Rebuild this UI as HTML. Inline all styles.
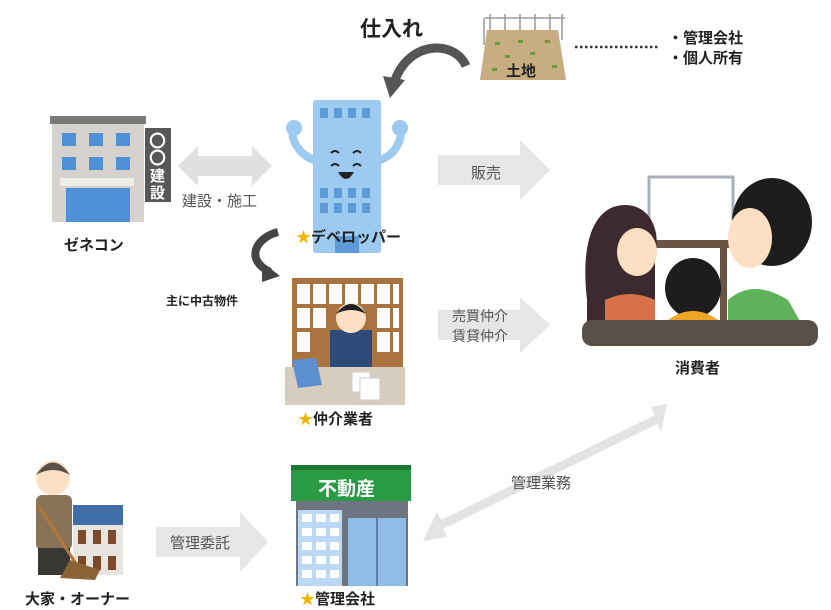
<!DOCTYPE html>
<html><head><meta charset="utf-8"><style>
html,body{margin:0;padding:0;background:#fff;width:831px;height:610px;overflow:hidden}
svg{display:block}
text{font-family:"Liberation Sans","Noto Sans CJK JP",sans-serif;font-weight:bold;fill:#222}
.g{fill:#555;font-weight:normal}
</style></head><body>
<svg width="831" height="610" viewBox="0 0 831 610" xmlns="http://www.w3.org/2000/svg">
<!-- 仕入れ -->
<text x="360" y="36" font-size="21">仕入れ</text>
<path d="M466,66 C455,40 410,40 395,80" fill="none" stroke="#555" stroke-width="9"/>
<polygon points="383,76 405,80 390,98" fill="#555"/>
<!-- land -->
<g stroke="#999" stroke-width="1.5"><line x1="485" y1="18" x2="565" y2="18"/><line x1="490" y1="14" x2="490" y2="30"/><line x1="505" y1="14" x2="505" y2="30"/><line x1="520" y1="14" x2="520" y2="30"/><line x1="535" y1="14" x2="535" y2="30"/><line x1="550" y1="14" x2="550" y2="30"/><line x1="562" y1="14" x2="562" y2="40"/><line x1="484" y1="18" x2="484" y2="45"/></g>
<polygon points="487,30 558,30 566,80 480,80" fill="#c9ad82"/>
<g fill="#6c9a3a"><rect x="495" y="42" width="5" height="3"/><rect x="518" y="40" width="5" height="3"/><rect x="545" y="40" width="5" height="3"/><rect x="505" y="55" width="5" height="3"/><rect x="530" y="52" width="5" height="3"/><rect x="492" y="68" width="5" height="3"/><rect x="552" y="65" width="5" height="3"/></g>
<text x="506" y="76" font-size="15">土地</text>
<line x1="575" y1="47" x2="660" y2="47" stroke="#333" stroke-width="2.5" stroke-dasharray="2.5,2.5"/>
<text x="668" y="43" font-size="15">・管理会社</text>
<text x="668" y="63" font-size="15">・個人所有</text>
<!-- general contractor -->
<rect x="52" y="122" width="92" height="100" fill="#d6d3cf"/>
<rect x="50" y="116" width="96" height="8" fill="#7a7a7a"/>
<g fill="#4d92d6"><rect x="62" y="133" width="14" height="13"/><rect x="89" y="133" width="14" height="13"/><rect x="116" y="133" width="14" height="13"/><rect x="62" y="157" width="14" height="13"/><rect x="89" y="157" width="14" height="13"/><rect x="116" y="157" width="14" height="13"/><rect x="66" y="188" width="64" height="34"/></g>
<rect x="60" y="178" width="74" height="8" fill="#eeeeea"/>
<rect x="145" y="128" width="26" height="74" fill="#575757"/>
<text x="149" y="147" font-size="17" style="fill:#fff">〇</text>
<text x="149" y="164" font-size="17" style="fill:#fff">〇</text>
<text x="150" y="181" font-size="15" style="fill:#fff">建</text>
<text x="150" y="198" font-size="15" style="fill:#fff">設</text>
<text x="64" y="250" font-size="15">ゼネコン</text>
<!-- double arrow -->
<polygon points="178,166 198,146 198,156 252,156 252,146 272,166 252,186 252,176 198,176 198,186" fill="#e0e0e0"/>
<text x="182" y="206" font-size="15" class="g">建設・施工</text>
<!-- developer -->
<rect x="313" y="100" width="68" height="153" rx="3" fill="#9ccaf0"/>
<g fill="#5c9ad8"><rect x="320" y="108" width="8" height="10"/><rect x="334" y="108" width="8" height="10"/><rect x="348" y="108" width="8" height="10"/><rect x="362" y="108" width="8" height="10"/><rect x="320" y="188" width="8" height="10"/><rect x="334" y="188" width="8" height="10"/><rect x="348" y="188" width="8" height="10"/><rect x="362" y="188" width="8" height="10"/><rect x="320" y="203" width="8" height="10"/><rect x="334" y="203" width="8" height="10"/><rect x="348" y="203" width="8" height="10"/><rect x="362" y="203" width="8" height="10"/><rect x="335" y="236" width="24" height="17"/></g>
<path d="M314,160 C300,155 290,140 293,128" fill="none" stroke="#9ccaf0" stroke-width="8"/>
<path d="M380,160 C395,155 403,140 400,128" fill="none" stroke="#9ccaf0" stroke-width="8"/>
<circle cx="294" cy="128" r="8" fill="#9ccaf0"/><circle cx="400" cy="128" r="8" fill="#9ccaf0"/>
<g fill="none" stroke="#222" stroke-width="2"><path d="M331,153 q4,-4 8,0"/><path d="M353,153 q4,-4 8,0"/><path d="M331,166 q4,-4 8,0"/><path d="M353,166 q4,-4 8,0"/></g>
<path d="M338,172 q8,14 16,0 z" fill="#222"/>
<text x="296" y="242" font-size="15"><tspan style="fill:#f2b400">★</tspan>デベロッパー</text>
<!-- 販売 -->
<polygon points="438,155 520,155 520,140 550,170 520,200 520,185 438,185" fill="#e6e6e6"/>
<text x="471" y="178" font-size="15" class="g">販売</text>
<!-- curved dark arrow -->
<path d="M278,232 C255,238 245,260 270,272" fill="none" stroke="#444" stroke-width="8"/>
<polygon points="262,262 280,276 262,282" fill="#444"/>
<text x="166" y="305" font-size="12">主に中古物件</text>
<!-- broker -->
<rect x="292" y="278" width="111" height="90" fill="#a9743f"/>
<g fill="#fff">
<rect x="297" y="284" width="13" height="20"/><rect x="313" y="284" width="13" height="20"/><rect x="329" y="284" width="13" height="20"/><rect x="345" y="284" width="13" height="20"/><rect x="361" y="284" width="13" height="20"/><rect x="377" y="284" width="13" height="20"/><rect x="393" y="284" width="6" height="20"/>
<rect x="297" y="308" width="13" height="20"/><rect x="313" y="308" width="13" height="20"/><rect x="377" y="308" width="13" height="20"/><rect x="393" y="308" width="6" height="20"/>
<rect x="297" y="332" width="13" height="20"/><rect x="377" y="332" width="13" height="20"/><rect x="393" y="332" width="6" height="20"/></g>
<rect x="330" y="330" width="42" height="40" fill="#2d4a7a"/>
<circle cx="351" cy="318" r="15" fill="#fde0c4"/>
<path d="M336,314 q15,-20 30,0 q-15,-8 -30,0z" fill="#222"/>
<rect x="285" y="367" width="120" height="38" fill="#d7cdbf"/>
<polygon points="292,360 316,358 322,385 298,388" fill="#5b8fd0"/>
<rect x="352" y="372" width="18" height="20" fill="#fff" stroke="#ccc"/><rect x="360" y="378" width="20" height="22" fill="#fff" stroke="#ccc"/>
<text x="298" y="424" font-size="15"><tspan style="fill:#f2b400">★</tspan>仲介業者</text>
<!-- 売買仲介 arrow -->
<polygon points="438,310 520,310 520,297 550,325 520,353 520,340 438,340" fill="#e6e6e6"/>
<text x="452" y="321" font-size="14" class="g">売買仲介</text>
<text x="452" y="341" font-size="14" class="g">賃貸仲介</text>
<!-- family -->
<rect x="649" y="177" width="84" height="66" fill="#fff" stroke="#a9b0b8" stroke-width="3"/>
<rect x="648" y="240" width="92" height="8" fill="#6a5444"/>
<rect x="720" y="244" width="7" height="80" fill="#6a5444"/>
<path d="M587,300 C580,240 595,205 625,205 C655,205 660,240 655,250 L655,330 L587,330 Z" fill="#3d2a2e"/>
<ellipse cx="637" cy="252" rx="20" ry="24" fill="#fde0c4"/>
<path d="M605,300 q25,-12 50,0 L655,330 L605,330 Z" fill="#d7714a"/>
<path d="M728,300 q25,-22 60,0 L805,330 L728,330 Z" fill="#5fb35a"/>
<ellipse cx="772" cy="222" rx="40" ry="44" fill="#1d1d1d"/>
<ellipse cx="750" cy="238" rx="22" ry="30" fill="#fde0c4"/>
<ellipse cx="693" cy="288" rx="28" ry="30" fill="#1d1d1d"/>
<path d="M668,320 q25,-18 50,0 L718,330 L668,330 Z" fill="#f0a526"/>
<rect x="582" y="320" width="236" height="26" rx="10" fill="#5a5048"/>
<text x="675" y="373" font-size="15">消費者</text>
<!-- diagonal double arrow -->
<polygon points="423,541 437,512 441,520 655,415 651,407 667,404 661,432 657,424 443,529 447,537" fill="#e3e3e3"/>
<text x="511" y="488" font-size="15" class="g">管理業務</text>
<!-- owner -->
<rect x="73" y="505" width="50" height="20" fill="#3f6ea8"/>
<rect x="73" y="525" width="50" height="50" fill="#e8e5e0"/>
<g fill="#7a4a2a"><rect x="78" y="530" width="8" height="14"/><rect x="93" y="530" width="8" height="14"/><rect x="108" y="530" width="8" height="14"/><rect x="78" y="556" width="8" height="14"/><rect x="93" y="556" width="8" height="14"/><rect x="108" y="556" width="8" height="14"/></g>
<rect x="36" y="495" width="36" height="55" rx="6" fill="#8a7256"/>
<rect x="38" y="548" width="32" height="27" fill="#3a3835"/>
<circle cx="53" cy="478" r="17" fill="#fde0c4"/>
<path d="M36,475 q17,-25 34,0 q-17,-10 -34,0z" fill="#5a5048"/>
<line x1="38" y1="505" x2="80" y2="570" stroke="#b0773a" stroke-width="3"/>
<polygon points="70,560 100,570 95,580 60,578" fill="#8a6436"/>
<text x="25" y="604" font-size="15">大家・オーナー</text>
<!-- 管理委託 -->
<polygon points="156,527 240,527 240,512 268,542 240,572 240,557 156,557" fill="#e6e6e6"/>
<text x="170" y="548" font-size="15" class="g">管理委託</text>
<!-- store -->
<rect x="291" y="465" width="120" height="36" fill="#2a9a45"/>
<rect x="291" y="465" width="120" height="5" fill="#1d7a35"/>
<text x="318" y="495" font-size="19" style="fill:#fff">不動産</text>
<rect x="296" y="501" width="112" height="85" fill="#6e7580"/>
<rect x="298" y="510" width="44" height="76" fill="#bcd8f2"/>
<g fill="#fff"><rect x="302" y="514" width="10" height="8"/><rect x="316" y="514" width="10" height="8"/><rect x="330" y="514" width="9" height="8"/><rect x="302" y="528" width="10" height="8"/><rect x="316" y="528" width="10" height="8"/><rect x="330" y="528" width="9" height="8"/><rect x="302" y="542" width="10" height="8"/><rect x="316" y="542" width="10" height="8"/><rect x="330" y="542" width="9" height="8"/><rect x="302" y="556" width="10" height="8"/><rect x="316" y="556" width="10" height="8"/><rect x="330" y="556" width="9" height="8"/><rect x="302" y="570" width="10" height="8"/><rect x="316" y="570" width="10" height="8"/><rect x="330" y="570" width="9" height="8"/></g>
<rect x="348" y="518" width="58" height="68" fill="#8fbde6"/>
<line x1="377" y1="518" x2="377" y2="586" stroke="#5a7fa8" stroke-width="2"/>
<text x="300" y="604" font-size="15"><tspan style="fill:#f2b400">★</tspan>管理会社</text>
</svg>
</body></html>
